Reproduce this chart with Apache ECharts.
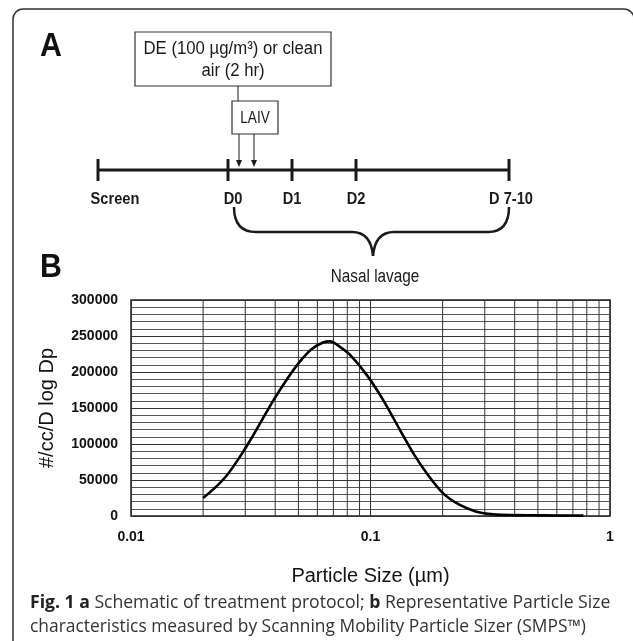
<!DOCTYPE html>
<html>
<head>
<meta charset="utf-8">
<script src="https://cdn.jsdelivr.net/npm/echarts@6/dist/echarts.min.js"></script>
<style>
html,body{margin:0;padding:0;background:#fff;}
#c{width:633px;height:641px;}
</style>
</head>
<body>
<div id="c"></div>
<script>
// ---- Panel B data ----
var particleSizes = [0.0200, 0.0224, 0.0252, 0.0282, 0.0317, 0.0356, 0.0399, 0.0448, 0.0503, 0.0564, 0.0633, 0.0678, 0.0745, 0.082, 0.0964, 0.113, 0.133, 0.151, 0.172, 0.201, 0.236, 0.277, 0.326, 0.40, 0.479, 0.60, 0.774];
var particleCounts = [25000, 39000, 57000, 80000, 107000, 136000, 164000, 190000, 213000, 231000, 241000, 242500, 235000, 224000, 196000, 161000, 119000, 87000, 59000, 31500, 15300, 6000, 2300, 1200, 1000, 700, 500];
var xMinorGrid = [0.02, 0.03, 0.04, 0.05, 0.06, 0.07, 0.08, 0.09, 0.2, 0.3, 0.4, 0.5, 0.6, 0.7, 0.8, 0.9];
var yTickInterval = 50000;
var yMax = 300000;

// ---- Panel A labels ----
var timelineLabels = ['Screen', 'D0', 'D1', 'D2', 'D 7-10'];
var exposureText = ['DE (100 \u00b5g/m\u00b3) or clean', 'air (2 hr)'];
var vaccineText = 'LAIV';
var braceText = 'Nasal lavage';

var SANS = "'Liberation Sans',Arial,sans-serif";
var CAP = "'Open Sans','Noto Sans',sans-serif";

function txt(x, y, s, font, align, va, fill, sx) {
  return {type:'text', x:x, y:y, scaleX:sx||1, silent:true, z:10,
    style:{text:s, font:font, align:align||'center', verticalAlign:va||'middle', fill:fill||'#1a1a1a'}};
}
function seg(x1,y1,x2,y2,w){
  return {type:'line', silent:true, z:10, shape:{x1:x1,y1:y1,x2:x2,y2:y2}, style:{stroke:'#1a1a1a', lineWidth:w||1}};
}
function qcurve(x1,y1,cx,cy,x2,y2,w){
  return {type:'bezierCurve', silent:true, z:10, shape:{x1:x1,y1:y1,x2:x2,y2:y2,cpx1:cx,cpy1:cy}, style:{stroke:'#1a1a1a', fill:'none', lineWidth:w||1}};
}

var tickX = [98, 228, 292, 356, 509];
var labelX = [115, 233, 292, 356, 511];

var graphics = [];
// outer rounded frame
graphics.push({type:'rect', silent:true, z:0, shape:{x:13, y:9, width:621, height:680, r:10}, style:{fill:'none', stroke:'#333', lineWidth:1.5}});
// panel letters
graphics.push(txt(40, 47, 'A', 'bold 33px ' + SANS, 'left', 'middle', '#111', 0.92));
graphics.push(txt(40, 268, 'B', 'bold 33px ' + SANS, 'left', 'middle', '#111', 0.92));
// exposure box
graphics.push({type:'rect', silent:true, z:9, shape:{x:135, y:32, width:196, height:54}, style:{fill:'#fff', stroke:'#333', lineWidth:1.2}});
graphics.push(txt(233, 49, exposureText[0], '18px ' + SANS, 'center', 'middle', '#1a1a1a', 0.93));
graphics.push(txt(233, 71, exposureText[1], '18px ' + SANS, 'center', 'middle', '#1a1a1a', 0.93));
graphics.push(seg(238, 86, 238, 101, 1));
// LAIV box
graphics.push({type:'rect', silent:true, z:9, shape:{x:232, y:101, width:46, height:33}, style:{fill:'#fff', stroke:'#333', lineWidth:1.2}});
graphics.push(txt(255, 118, vaccineText, '17px ' + SANS, 'center', 'middle', '#1a1a1a', 0.8));
// arrows
[239, 254].forEach(function(ax){
  graphics.push(seg(ax, 134, ax, 162, 1));
  graphics.push({type:'polygon', silent:true, z:10, shape:{points:[[ax-3,160],[ax+3,160],[ax,167]]}, style:{fill:'#1a1a1a'}});
});
// timeline
graphics.push(seg(98, 170, 509, 170, 3));
tickX.forEach(function(tx){ graphics.push(seg(tx, 159, tx, 181, 3)); });
timelineLabels.forEach(function(l, i){ graphics.push(txt(labelX[i], 199, l, 'bold 17px ' + SANS, 'center', 'middle', '#1a1a1a', 0.86)); });
// brace
graphics.push(qcurve(234,207, 234,232, 256,232, 2.5));
graphics.push(seg(256,232, 352,232, 2.5));
graphics.push(qcurve(352,232, 371,232, 373,256, 2.5));
graphics.push(qcurve(373,256, 375,232, 394,232, 2.5));
graphics.push(seg(394,232, 488,232, 2.5));
graphics.push(qcurve(488,232, 509,232, 509,207, 2.5));
graphics.push(txt(375, 277, braceText, '18px ' + SANS, 'center', 'middle', '#1a1a1a', 0.85));
// caption
graphics.push({type:'text', x:30, y:603, silent:true, z:10,
  style:{text:'{b|Fig. 1 a} {n|Schematic of treatment protocol;} {b|b} {n|Representative Particle Size}',
    verticalAlign:'middle', align:'left', fill:'#333', font:'17.6px ' + CAP,
    rich:{b:{font:'bold 17.6px ' + CAP, fill:'#222'}, n:{font:'17.6px ' + CAP, fill:'#333'}}}});
graphics.push(txt(30, 627, 'characteristics measured by Scanning Mobility Particle Sizer (SMPS\u2122)', '17.4px ' + CAP, 'left', 'middle', '#333'));

// vertical minor grid lines built as a gapped line series through the log axis
var vGridData = [];
xMinorGrid.forEach(function(v){ vGridData.push([v, 0]); vGridData.push([v, yMax]); vGridData.push([v, '-']); });

var curveData = particleSizes.map(function(s, i){ return [s, particleCounts[i]]; });

var chart = echarts.init(document.getElementById('c'), null, {renderer:'canvas'});
chart.setOption({
  animation:false,
  backgroundColor:'#fff',
  graphic: graphics,
  grid:{left:131, top:300, right:23, bottom:125, show:true, borderColor:'#222', borderWidth:1.5, backgroundColor:'transparent'},
  xAxis:{type:'log', logBase:10, min:0.01, max:1,
    axisLine:{show:false}, axisTick:{show:false},
    splitLine:{show:true, lineStyle:{color:'#333', width:1}},
    axisLabel:{margin:14, fontSize:14, fontWeight:'bold', fontFamily:SANS, color:'#111',
      formatter:function(v){ return String(+(+v).toPrecision(3)); }},
    name:'Particle Size (\u00b5m)', nameLocation:'middle', nameGap:50,
    nameTextStyle:{fontSize:20, fontFamily:SANS, color:'#111'}},
  yAxis:{type:'value', min:0, max:yMax, interval:yTickInterval,
    axisLine:{show:false}, axisTick:{show:false},
    splitLine:{show:true, lineStyle:{color:'#333', width:1}},
    minorTick:{show:false, splitNumber:5},
    minorSplitLine:{show:true, lineStyle:{color:'#555', width:1}},
    axisLabel:{margin:13, fontSize:14, fontWeight:'bold', fontFamily:SANS, color:'#111',
      formatter:function(v){ return String(v); }},
    name:'#/cc/D log Dp', nameLocation:'middle', nameGap:74, nameRotate:90,
    nameTextStyle:{fontSize:20, fontFamily:SANS, color:'#111'}},
  series:[
    {type:'line', data:vGridData, symbol:'none', silent:true, z:1, connectNulls:false,
      lineStyle:{color:'#333', width:1}},
    {type:'line', data:curveData, smooth:0.3, symbol:'none', silent:true, z:5,
      lineStyle:{color:'#000', width:2.6}}
  ]
});
</script>
</body>
</html>
